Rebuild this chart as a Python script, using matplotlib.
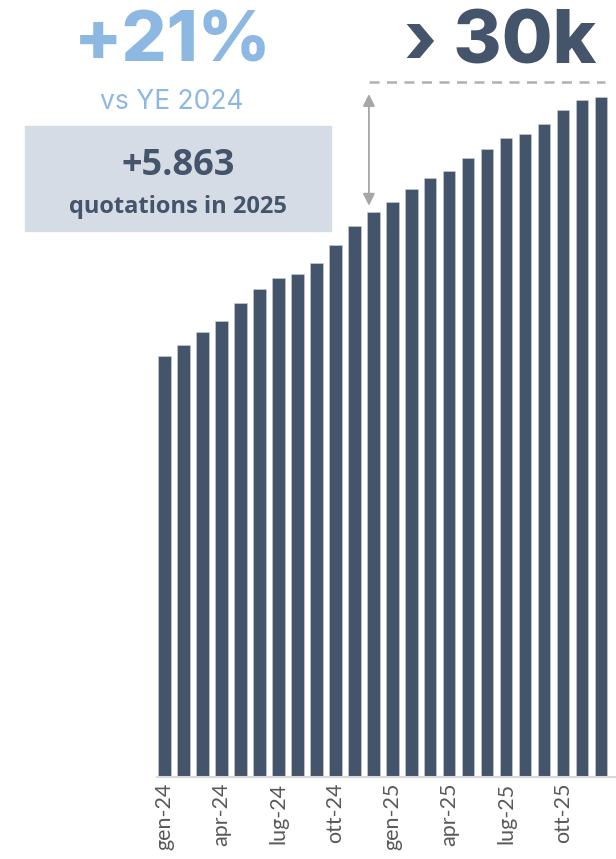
import matplotlib
matplotlib.use("Agg")
import numpy as np
import matplotlib.pyplot as plt
from matplotlib.patches import Rectangle

# monthly cumulative quotations, gen-24 .. dic-25
months = ['gen-24', 'feb-24', 'mar-24', 'apr-24', 'mag-24', 'giu-24',
          'lug-24', 'ago-24', 'set-24', 'ott-24', 'nov-24', 'dic-24',
          'gen-25', 'feb-25', 'mar-25', 'apr-25', 'mag-25', 'giu-25',
          'lug-25', 'ago-25', 'set-25', 'ott-25', 'nov-25', 'dic-25']
quotations = [20950, 21450, 22100, 22660, 23560, 24250,
              24820, 25020, 25550, 26430, 27370, 28100,
              28580, 29220, 29760, 30120, 30760, 31210,
              31760, 31950, 32450, 33150, 33650, 33800]
tick_every = 3

dark = '#44546a'
light_blue = '#8db8e2'
grey = '#a6a6a6'

W, H = 616, 859
fig = plt.figure(figsize=(W / 100, H / 100), dpi=100)

def fx(px):
    return px / W

def fy(py):
    return 1 - py / H

# axes: left edge 157px, baseline at 777px
ax = fig.add_axes([fx(157), fy(777), fx(W - 157), (777) / H])
x = np.arange(len(months))
ax.bar(x, quotations, width=0.66, color=dark, edgecolor='#c9cfd8', linewidth=0.4)

pitch_px = 18.98
ax.set_xlim(-7.5 / pitch_px, (W - 164.5) / pitch_px)
per_px = quotations[-1] / 680.0
ax.set_ylim(0, 777 * per_px)

for s in ['top', 'right', 'left']:
    ax.spines[s].set_visible(False)
ax.spines['bottom'].set_color('#d9d9d9')
ax.spines['bottom'].set_linewidth(1.5)
ax.set_yticks([])
ax.set_xticks(x[::tick_every])
ax.set_xticklabels(months[::tick_every], rotation=90, va='top', ha='center',
                   fontsize=15.5, color='#595959', family='Lato')
ax.tick_params(axis='x', length=0, pad=4)

# dashed reference line above last bar and growth arrow
top_val = quotations[-1] + 15 * per_px
ax.plot([10.77, len(months) - 0.8], [top_val, top_val], ls=(0, (4, 3)),
        color='#b0b0b0', lw=1.8, clip_on=False)
ax.annotate('', xy=(10.77, quotations[11] + 6 * per_px),
            xytext=(10.77, quotations[-1] + 3 * per_px),
            arrowprops=dict(arrowstyle='<|-|>', color=grey, lw=1.3,
                            mutation_scale=18, shrinkA=0, shrinkB=0))

# headline texts
fig.text(fx(173), fy(62), '+21%', ha='center', va='baseline',
         fontsize=51, fontweight='heavy', color=light_blue, family='Inter')
fig.text(fx(172), fy(109), 'vs YE 2024', ha='center', va='baseline',
         fontsize=19, color=light_blue, family='Inter')
fig.text(fx(500), fy(64), '\u203a 30k', ha='center', va='baseline',
         fontsize=53, fontweight='heavy', color=dark, family='Inter')

# box
fig.patches.append(Rectangle((fx(25), fy(231)), fx(306), 105 / H,
                             transform=fig.transFigure, color='#d6dce5', zorder=0))
fig.text(fx(178), fy(175), '+5.863', ha='center', va='baseline',
         fontsize=26, fontweight='bold', color=dark, family='Open Sans')
fig.text(fx(178), fy(213), 'quotations in 2025', ha='center', va='baseline',
         fontsize=17, fontweight='bold', color=dark, family='Open Sans')

fig.savefig('out.png', dpi=100)
